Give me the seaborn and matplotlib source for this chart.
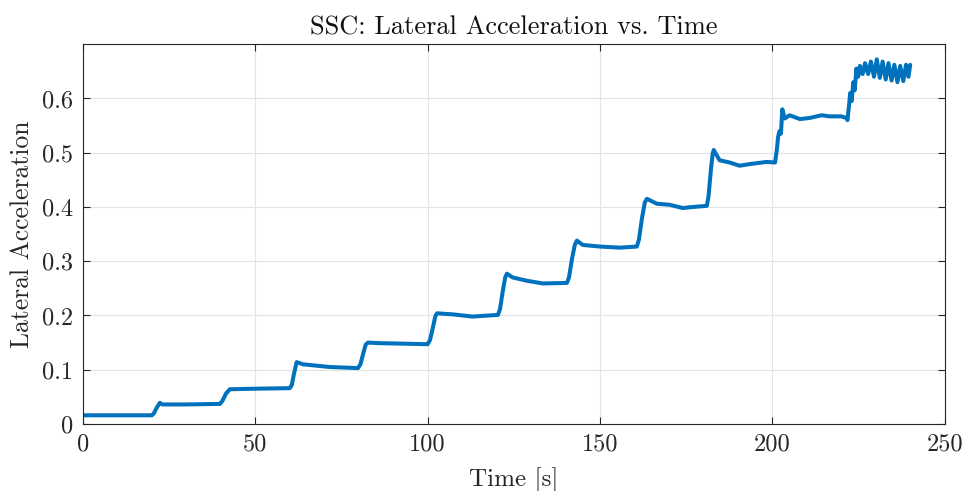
import matplotlib
matplotlib.use("Agg")
import matplotlib.pyplot as plt
import seaborn as sns
import pandas as pd

# ---- data ----
time_s = [0, 20.0, 20.6, 21.4, 22.3, 23.0, 30.0, 39.7, 40.4, 41.5, 42.6, 50.0, 60.0,
          60.6, 61.2, 62.0, 63.8, 71.6, 79.8, 80.5, 81.4, 82.0, 82.7, 86.0, 93.0,
          100.0, 100.7, 101.6, 102.2, 102.7, 107.3, 113.0, 120.4, 121.0, 121.8,
          122.5, 123.0, 124.7, 128.8, 133.4, 140.4, 141.0, 141.9, 142.7, 143.3,
          145.0, 150.0, 155.7, 160.7, 161.3, 162.2, 163.0, 163.6, 166.5, 170.2,
          174.0, 177.0, 181.0, 181.5, 182.2, 182.7, 183.0, 184.7, 187.6, 190.5,
          193.4, 198.4, 200.8, 201.3, 201.7, 202.1, 202.5, 202.9, 203.6, 205.0,
          208.0, 210.8, 214.3, 216.6, 220.0, 221.5, 221.8, 222.3, 222.6, 223.0,
          223.5, 223.9, 224.4, 224.9, 225.4, 226.2, 226.9, 227.8, 228.6, 229.5,
          230.3, 231.2, 232.0, 232.9, 233.7, 234.6, 235.4, 236.3, 237.1, 238.0,
          238.8, 239.5, 240.0]
lat_acc = [0.016, 0.016, 0.020, 0.030, 0.039, 0.036, 0.036, 0.037, 0.042, 0.056, 0.064,
           0.065, 0.066, 0.072, 0.092, 0.114, 0.110, 0.105, 0.103, 0.110, 0.132, 0.146,
           0.150, 0.149, 0.148, 0.147, 0.155, 0.180, 0.198, 0.204, 0.202, 0.198, 0.201,
           0.212, 0.245, 0.270, 0.277, 0.270, 0.264, 0.259, 0.260, 0.270, 0.305, 0.330,
           0.338, 0.330, 0.327, 0.325, 0.327, 0.340, 0.380, 0.408, 0.415, 0.406, 0.404,
           0.398, 0.400, 0.402, 0.420, 0.470, 0.498, 0.505, 0.486, 0.482, 0.476, 0.479,
           0.483, 0.482, 0.505, 0.530, 0.540, 0.535, 0.580, 0.563, 0.569, 0.562, 0.564,
           0.569, 0.567, 0.567, 0.564, 0.560, 0.590, 0.610, 0.595, 0.630, 0.615, 0.655,
           0.640, 0.660, 0.645, 0.665, 0.645, 0.668, 0.640, 0.672, 0.638, 0.668, 0.635,
           0.665, 0.633, 0.662, 0.630, 0.660, 0.632, 0.662, 0.640, 0.662]

x_ticks = [0, 50, 100, 150, 200, 250]
x_tick_labels = ["0", "50", "100", "150", "200", "250"]
y_ticks = [0, 0.1, 0.2, 0.3, 0.4, 0.5, 0.6]
y_tick_labels = ["0", "0.1", "0.2", "0.3", "0.4", "0.5", "0.6"]

df = pd.DataFrame({"Time [s]": time_s, "Lateral Acceleration": lat_acc})

sns.set_theme(style="ticks")
plt.rcParams["font.family"] = ["cmr10", "DejaVu Serif"]
plt.rcParams["mathtext.fontset"] = "cm"
plt.rcParams["axes.formatter.use_mathtext"] = True

fig = plt.figure(figsize=(9.66, 4.91), dpi=100)
ax = fig.add_axes([0.0859, 0.1365, 0.892, 0.7735])

sns.lineplot(data=df, x="Time [s]", y="Lateral Acceleration", ax=ax,
             color="#0072BD", linewidth=2.9, estimator=None, sort=False)
for ln in ax.get_lines():
    ln.set_solid_joinstyle("round")
    ln.set_solid_capstyle("round")

ax.set_xlim(0, 250)
ax.set_ylim(0, 0.7)
ax.set_xticks(x_ticks)
ax.set_xticklabels(x_tick_labels)
ax.set_yticks(y_ticks)
ax.set_yticklabels(y_tick_labels)
ax.grid(True, color="#e3e3e3", linewidth=0.8)
ax.set_axisbelow(True)

for s in ax.spines.values():
    s.set_visible(True)
    s.set_color("#262626")
    s.set_linewidth(0.8)
ax.tick_params(direction="in", length=5, width=0.8, color="#262626",
               labelsize=17.5, top=True, right=True, labelcolor="#262626", pad=7)

ax.set_xlabel("Time [s]", fontsize=18, color="#262626", labelpad=8)
ax.set_ylabel("Lateral Acceleration", fontsize=18.5, color="#262626", labelpad=6)
ax.set_title("SSC: Lateral Acceleration vs. Time", fontsize=19, color="#111111", pad=7)

fig.savefig("out.png", dpi=100)
